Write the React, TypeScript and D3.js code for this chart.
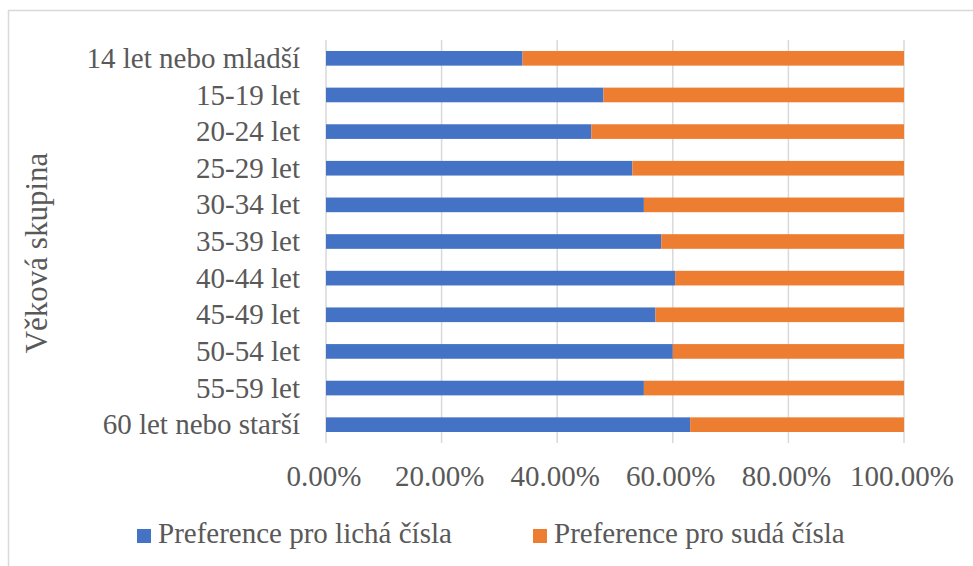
import * as d3 from 'd3'
import React, { useEffect, useRef } from 'react'

const groups = [
  '14 let nebo mladší',
  '15-19 let',
  '20-24 let',
  '25-29 let',
  '30-34 let',
  '35-39 let',
  '40-44 let',
  '45-49 let',
  '50-54 let',
  '55-59 let ',
  '60 let nebo starší',
]
const odd = [0.34, 0.48, 0.459, 0.53, 0.55, 0.58, 0.604, 0.57, 0.6, 0.55, 0.63]
const even = odd.map((v) => 1 - v)
const ticks = [0, 0.2, 0.4, 0.6, 0.8, 1]
const seriesNames = ['Preference pro lichá čísla', 'Preference pro sudá čísla']
const colors = ['#4472C4', '#ED7D31']

export default function App() {
  const ref = useRef<SVGSVGElement>(null)

  useEffect(() => {
    const svg = d3.select(ref.current)
    svg.selectAll('*').remove()
    const font = '"Liberation Serif", "Times New Roman", serif'
    const textColor = '#595959'

    const x = d3.scaleLinear().domain([0, 1]).range([326, 904])
    const y = d3.scaleBand().domain(groups).range([40, 443]).paddingInner(0.6).paddingOuter(0.3)

    // chart border
    svg
      .append('rect')
      .attr('x', 8.5)
      .attr('y', 10.5)
      .attr('width', 1000)
      .attr('height', 600)
      .attr('fill', 'white')
      .attr('stroke', '#d9d9d9')
      .attr('stroke-width', 1.5)

    // grid
    svg
      .append('g')
      .selectAll('line')
      .data(ticks)
      .join('line')
      .attr('x1', (d) => x(d))
      .attr('x2', (d) => x(d))
      .attr('y1', 40)
      .attr('y2', 443)
      .attr('stroke', '#d9d9d9')
      .attr('stroke-width', 1.5)

    const rows = groups.map((g, i) => ({ group: g, odd: odd[i], even: even[i] }))
    const stack = d3.stack<any>().keys(['odd', 'even'])(rows)

    svg
      .append('g')
      .selectAll('g')
      .data(stack)
      .join('g')
      .attr('fill', (_d, i) => colors[i])
      .selectAll('rect')
      .data((d) => d)
      .join('rect')
      .attr('x', (d) => x(d[0]))
      .attr('width', (d) => x(d[1]) - x(d[0]))
      .attr('y', (d) => y(d.data.group)!)
      .attr('height', y.bandwidth())

    // category labels
    svg
      .append('g')
      .selectAll('text')
      .data(groups)
      .join('text')
      .attr('x', 300)
      .attr('y', (d) => y(d)! + y.bandwidth() / 2)
      .attr('dy', '0.33em')
      .attr('text-anchor', 'end')
      .attr('font-family', font)
      .attr('font-size', 29)
      .attr('fill', textColor)
      .text((d) => d)

    // tick labels
    svg
      .append('g')
      .selectAll('text')
      .data(ticks)
      .join('text')
      .attr('x', (d) => x(d) - 2)
      .attr('y', 486)
      .attr('text-anchor', 'middle')
      .attr('font-family', font)
      .attr('font-size', 29)
      .attr('fill', textColor)
      .text((d) => d3.format('.2%')(d))

    // axis title
    svg
      .append('text')
      .attr('transform', 'translate(47,253) rotate(-90)')
      .attr('text-anchor', 'middle')
      .attr('font-family', font)
      .attr('font-size', 31)
      .attr('fill', textColor)
      .text('Věková skupina')

    // legend
    const legendX = [137, 533]
    const legend = svg
      .append('g')
      .selectAll('g')
      .data(seriesNames)
      .join('g')
      .attr('transform', (_d, i) => `translate(${legendX[i]},0)`)
    legend
      .append('rect')
      .attr('y', 529)
      .attr('width', 14)
      .attr('height', 14)
      .attr('fill', (_d, i) => colors[i])
    legend
      .append('text')
      .attr('x', 21)
      .attr('y', 543)
      .attr('font-family', font)
      .attr('font-size', 29)
      .attr('fill', textColor)
      .text((d) => d)
  }, [])

  return (
    <svg
      ref={ref}
      width={973}
      height={566}
      style={{ position: 'absolute', left: 0, top: 0 }}
    />
  )
}
